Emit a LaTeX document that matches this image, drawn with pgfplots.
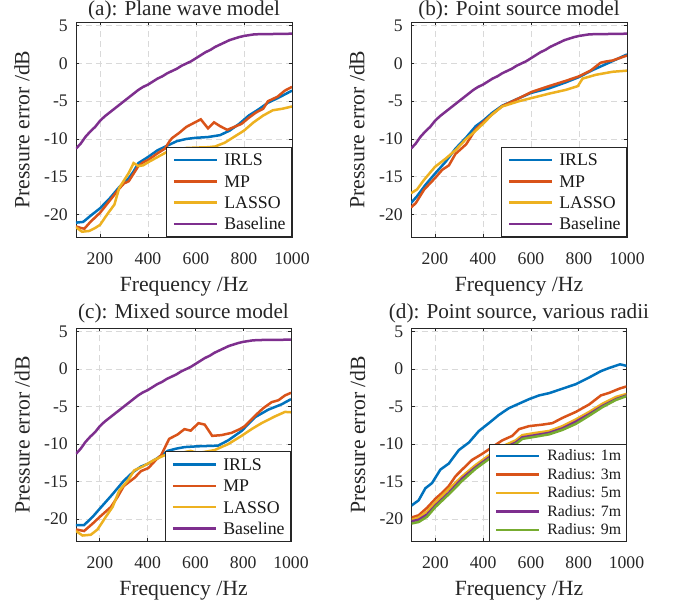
\documentclass[border=0pt]{standalone}
\usepackage{fontspec}
\setmainfont{Liberation Serif}
\usepackage{pgfplots}
\usepackage{pgfplotstable}
\pgfplotsset{compat=1.18}

\definecolor{c1}{rgb}{0,0.447,0.741}
\definecolor{c2}{rgb}{0.85,0.325,0.098}
\definecolor{c3}{rgb}{0.929,0.694,0.125}
\definecolor{c4}{rgb}{0.494,0.184,0.556}
\definecolor{c5}{rgb}{0.466,0.674,0.188}

% baseline (same in a, b, c)
\pgfplotstableread{
f v
100 -11.3
120 -10.6
140 -9.7
160 -9.0
180 -8.4
200 -7.6
220 -7.0
240 -6.5
260 -6.0
280 -5.5
300 -5.0
320 -4.5
340 -4.0
360 -3.5
380 -3.1
400 -2.8
420 -2.4
440 -2.0
460 -1.7
480 -1.3
500 -1.0
520 -0.7
540 -0.3
560 0.0
580 0.3
600 0.7
620 1.1
640 1.5
660 1.8
680 2.2
700 2.5
720 2.8
740 3.1
760 3.3
780 3.5
800 3.65
820 3.75
840 3.85
860 3.88
880 3.9
900 3.9
950 3.92
1000 3.95
}\tbase

\pgfplotsset{
  errax/.style={
    scale only axis, width=216pt, height=215pt,
    xmin=100, xmax=1000, ymin=-23, ymax=5.5,
    xtick={200,400,600,800,1000}, xticklabels={200,400,600,800,1000},
    ytick={-20,-15,-10,-5,0,5}, yticklabels={-20,-15,-10,-5,0,5},
    grid=major,
    major grid style={dash pattern=on 6pt off 4pt, line width=0.8pt, black!15},
    axis line style={black!85, line width=0.8pt},
    tick style={black!85, line width=0.8pt},
    major tick length=3pt,
    tick label style={font=\fontsize{17.7}{20}\selectfont, text=black!85},
    xticklabel style={anchor=north, inner sep=0pt, yshift=-15.5pt},
    yticklabel style={anchor=east, inner sep=0pt, xshift=-8pt},
    label style={font=\fontsize{21.7}{24}\selectfont, text=black!85},
    xlabel={Frequency /Hz}, ylabel={Pressure error /dB},
    xlabel style={at={(axis description cs:0.5,-0.2512)}, anchor=base},
    ylabel style={at={(axis description cs:-0.2153,0.5)}, anchor=base},
    title style={at={(axis description cs:0.5,1)}, anchor=base,
      font=\fontsize{21.2}{24}\selectfont, text=black!85},
    every axis plot/.append style={line width=2.5pt},
    legend cell align=left,
    legend image code/.code={\draw[#1, line width=2.6pt] (0pt,0pt) -- (43pt,0pt);},
    legend style={at={(1,0)}, anchor=south east, draw=black!85, line width=0.8pt,
      fill=white, inner xsep=6pt, inner ysep=2pt, column sep=6pt,
      font=\fontsize{17.8}{20}\selectfont, text=black!90,
      nodes={inner sep=0pt, text height=16.6pt, text depth=4.7pt}},
  },
  lowrow/.style={width=215pt, height=213.5pt,
    title style={at={(axis description cs:0.5,1.016)}}},
}

\begin{document}
\begin{tikzpicture}
\path[use as bounding box] (0pt,0pt) rectangle (681pt,607pt);

% (a)
\begin{axis}[errax, at={(76pt,370pt)}, anchor=south west, title={(a): Plane wave model}]
\addplot[c1] coordinates {(100,-21.1) (130,-21.0) (160,-20.2) (200,-19.2) (240,-17.9) (280,-16.4) (320,-15.2) (340,-14.3) (360,-13.2) (380,-12.8) (400,-12.4) (440,-11.5) (480,-10.9) (520,-10.3) (560,-10.0) (600,-9.85) (650,-9.75) (700,-9.5) (740,-8.9) (780,-8.0) (820,-6.9) (860,-6.1) (900,-5.2) (940,-4.6) (1000,-3.6)};
\addplot[c2] coordinates {(100,-21.6) (120,-21.8) (135,-21.9) (160,-21.0) (200,-19.8) (240,-18.2) (280,-16.6) (300,-15.9) (320,-15.6) (340,-14.6) (360,-13.6) (380,-13.1) (400,-12.8) (440,-11.9) (470,-11.3) (490,-10.3) (500,-9.9) (530,-9.2) (560,-8.4) (590,-7.9) (620,-7.4) (650,-8.6) (675,-7.8) (700,-8.3) (730,-8.8) (760,-8.4) (790,-8.0) (820,-7.2) (850,-6.5) (880,-6.0) (900,-5.0) (940,-4.4) (970,-3.6) (1000,-3.1)};
\addplot[c3] coordinates {(100,-21.7) (125,-22.3) (155,-22.2) (180,-21.8) (200,-21.4) (230,-20.0) (260,-18.7) (280,-16.5) (300,-15.5) (320,-14.5) (340,-13.2) (360,-13.6) (380,-13.5) (400,-13.1) (440,-12.4) (480,-11.7) (520,-11.4) (560,-11.2) (600,-11.15) (650,-11.1) (680,-11.0) (720,-10.5) (760,-9.7) (800,-8.9) (840,-7.8) (880,-6.9) (920,-6.2) (960,-6.0) (1000,-5.7)};
\addplot[c4] table[x=f,y=v] {\tbase};
\legend{IRLS,MP,LASSO,Baseline}
\end{axis}

% (b)
\begin{axis}[errax, at={(411pt,370pt)}, anchor=south west, title={(b): Point source model}]
\addplot[c1] coordinates {(100,-18.5) (125,-17.6) (160,-16.1) (200,-14.6) (245,-13.0) (285,-11.3) (330,-9.8) (370,-8.3) (400,-7.6) (440,-6.5) (480,-5.6) (550,-4.6) (600,-3.9) (675,-3.3) (745,-2.5) (800,-1.8) (855,-0.9) (925,0.1) (1000,1.2)};
\addplot[c2] coordinates {(100,-19.1) (120,-18.5) (155,-16.7) (200,-15.2) (230,-14.1) (258,-13.5) (285,-12.0) (330,-10.7) (370,-8.7) (400,-7.8) (440,-6.7) (480,-5.65) (550,-4.6) (600,-3.8) (675,-3.0) (745,-2.3) (800,-1.7) (850,-0.9) (890,0.1) (910,0.25) (940,0.4) (1000,1.05)};
\addplot[c3] coordinates {(100,-17.2) (125,-16.7) (155,-15.4) (200,-13.7) (245,-12.6) (285,-11.5) (330,-10.0) (370,-8.9) (400,-8.0) (440,-6.7) (480,-5.7) (550,-5.0) (600,-4.6) (675,-4.0) (745,-3.5) (795,-3.0) (815,-2.0) (870,-1.5) (940,-1.1) (1000,-0.95)};
\addplot[c4] table[x=f,y=v] {\tbase};
\legend{IRLS,MP,LASSO,Baseline}
\end{axis}

% (c)
\begin{axis}[errax, lowrow, at={(76pt,65.5pt)}, anchor=south west, title={(c): Mixed source model}]
\addplot[c1] coordinates {(100,-20.8) (134,-20.8) (170,-19.7) (200,-18.6) (250,-16.8) (300,-14.9) (340,-13.7) (372,-13.0) (403,-12.6) (440,-11.9) (484,-10.9) (520,-10.6) (554,-10.4) (605,-10.3) (650,-10.25) (695,-10.2) (737,-9.5) (793,-8.25) (850,-6.4) (905,-5.4) (960,-4.7) (1000,-4.0)};
\addplot[c2] coordinates {(100,-21.4) (134,-21.6) (170,-20.6) (200,-19.7) (246,-18.4) (275,-17.0) (300,-15.6) (345,-14.5) (372,-13.6) (403,-13.2) (435,-12.1) (456,-11.5) (490,-9.3) (526,-8.7) (554,-8.0) (580,-8.2) (613,-7.2) (639,-7.4) (670,-8.9) (709,-8.8) (751,-8.5) (786,-8.0) (807,-7.6) (850,-6.2) (884,-5.2) (919,-4.4) (947,-4.15) (975,-3.5) (1000,-3.15)};
\addplot[c3] coordinates {(100,-21.6) (127,-22.2) (162,-22.1) (190,-21.4) (225,-19.7) (253,-18.4) (281,-16.2) (316,-14.9) (344,-13.5) (379,-13.0) (428,-12.1) (470,-11.5) (512,-11.3) (550,-11.1) (580,-10.9) (610,-11.2) (680,-10.8) (737,-10.0) (793,-8.9) (835,-8.0) (877,-7.2) (933,-6.3) (975,-5.7) (1000,-5.75)};
\addplot[c4] table[x=f,y=v] {\tbase};
\legend{IRLS,MP,LASSO,Baseline}
\end{axis}

% (d)
\begin{axis}[errax, lowrow, at={(411.5pt,65.5pt)}, anchor=south west, title={(d): Point source, various radii},
  legend style={font=\fontsize{15.8}{18}\selectfont, inner xsep=5pt, column sep=7pt,
    nodes={inner sep=0pt, text height=14.25pt, text depth=4.25pt}}]
\addplot[c1] coordinates {(100,-18.2) (130,-17.5) (158,-15.9) (186,-15.2) (221,-13.4) (256,-12.6) (298,-10.8) (340,-9.8) (382,-8.25) (424,-7.2) (466,-6.1) (508,-5.2) (550,-4.6) (592,-4.0) (634,-3.5) (676,-3.2) (732,-2.6) (788,-2.0) (844,-1.1) (893,-0.26) (928,0.17) (973,0.65) (1000,0.45)};
\addplot[c2] coordinates {(100,-19.8) (130,-19.5) (165,-18.5) (200,-17.3) (228,-16.5) (256,-15.6) (284,-14.3) (312,-13.4) (354,-12.1) (396,-11.3) (438,-10.4) (480,-9.5) (522,-8.9) (550,-8.0) (592,-7.6) (648,-7.4) (690,-7.2) (732,-6.5) (788,-5.7) (844,-4.7) (893,-3.5) (928,-3.15) (970,-2.6) (1000,-2.3)};
\addplot[c3] coordinates {(100,-20.1) (130,-19.8) (165,-19.0) (200,-17.8) (256,-16.0) (312,-14.3) (368,-12.8) (424,-11.5) (480,-10.3) (536,-9.5) (564,-8.8) (620,-8.5) (676,-8.25) (732,-7.6) (788,-6.7) (844,-5.7) (900,-4.6) (956,-3.7) (1000,-3.3)};
\addplot[c4] coordinates {(100,-20.3) (130,-20.1) (165,-19.4) (200,-18.2) (256,-16.5) (312,-14.6) (368,-13.1) (424,-11.8) (480,-10.6) (536,-9.8) (564,-9.1) (620,-8.8) (676,-8.5) (732,-7.9) (788,-7.0) (844,-6.0) (900,-4.9) (956,-4.0) (1000,-3.5)};
\addplot[c5] coordinates {(100,-20.6) (130,-20.4) (165,-19.7) (200,-18.4) (256,-16.7) (312,-14.9) (368,-13.3) (424,-12.0) (480,-10.8) (536,-10.0) (564,-9.3) (620,-9.0) (676,-8.7) (732,-8.1) (788,-7.3) (844,-6.2) (900,-5.05) (956,-4.1) (1000,-3.6)};
\legend{Radius: 1m,Radius: 3m,Radius: 5m,Radius: 7m,Radius: 9m}
\end{axis}
\end{tikzpicture}
\end{document}
